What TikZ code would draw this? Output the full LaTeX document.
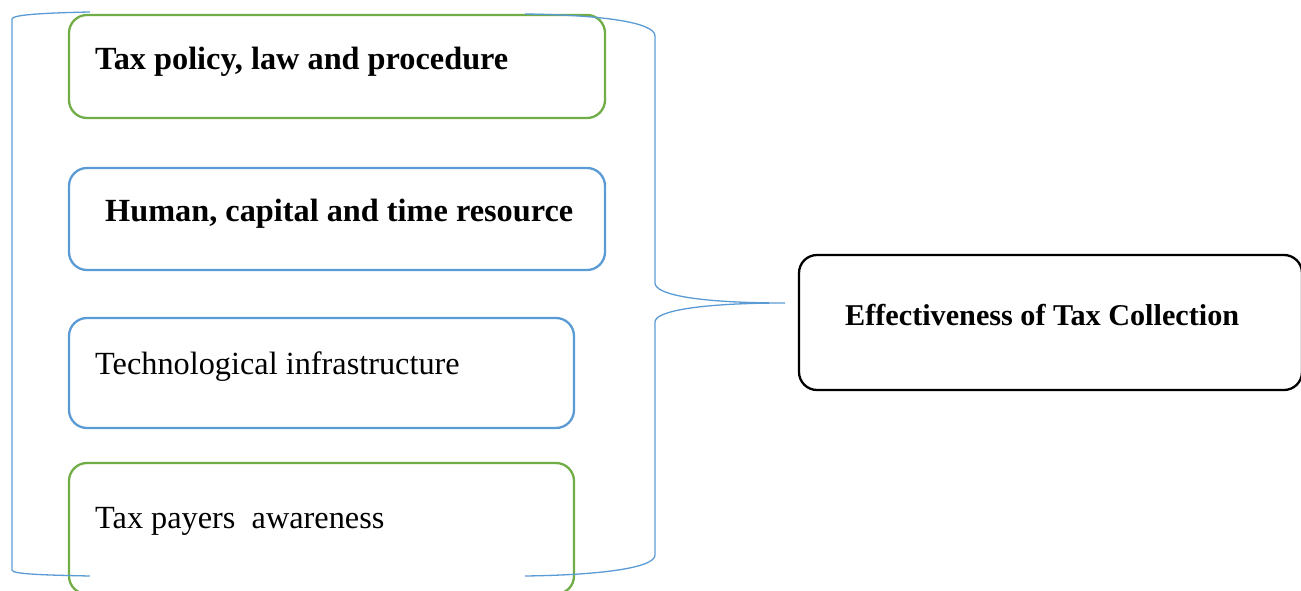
\documentclass[tikz,border=0pt]{standalone}
\usepackage{fontspec}
\setmainfont{Liberation Serif}
\definecolor{offgreen}{HTML}{70AD47}
\definecolor{offblue}{HTML}{5B9BD5}
\begin{document}
\begin{tikzpicture}[x=1pt,y=-1pt,
  box/.style={draw, rounded corners=18pt, line width=2.3pt, inner sep=0pt, minimum width=#1},
  gbox/.style={box=#1, draw=offgreen},
  bbox/.style={box=#1, draw=offblue},
  lbl/.style={anchor=west, inner sep=0pt, font=\fontsize{32.3}{36}\selectfont},
  blbl/.style={lbl, font=\fontsize{32.3}{36}\selectfont\bfseries},
  brace/.style={draw=offblue, line width=1.3pt}]
\useasboundingbox (0,0) rectangle (1301,591);
\begin{scope}
\clip (0,0) rectangle (1301,591);
\node[gbox=536pt, minimum height=103pt] (b1) at (337,66.5) {};
\node[bbox=536pt, minimum height=102pt] (b2) at (337,219) {};
\node[bbox=505pt, minimum height=110pt] (b3) at (321.5,373) {};
\node[gbox=505pt, minimum height=131pt] (b4) at (321.5,528.5) {};
\node[box=503pt, draw=black, minimum height=135pt] (eff) at (1050.5,322.5) {};
\end{scope}
\node[blbl] (t1) at (95,61.5) {Tax policy, law and procedure};
\node[blbl] (t2) at (105,213.5) {Human, capital and time resource};
\node[lbl] (t3) at (95,366.5) {Technological infrastructure};
\node[lbl] (t4) at (95,521.5) {Tax payers\ \ awareness};
\node[blbl, anchor=west, font=\fontsize{30.2}{34}\selectfont\bfseries] (t5) at (845,315) {Effectiveness of Tax Collection};
\coordinate (tip) at (785,303);
\path[brace] (90,12) .. controls (40,13) and (12,15) .. (12,19) -- (12,570)
  .. controls (12,574) and (40,575) .. (90,576);
\path[brace] (525,14) .. controls (600,15) and (655,22) .. (655,36) -- (655,283)
  .. controls (655,295) and (700,303) .. (tip)
  .. controls (700,303) and (655,311) .. (655,322) -- (655,555)
  .. controls (655,568) and (600,575) .. (525,576);
\end{tikzpicture}
\end{document}
